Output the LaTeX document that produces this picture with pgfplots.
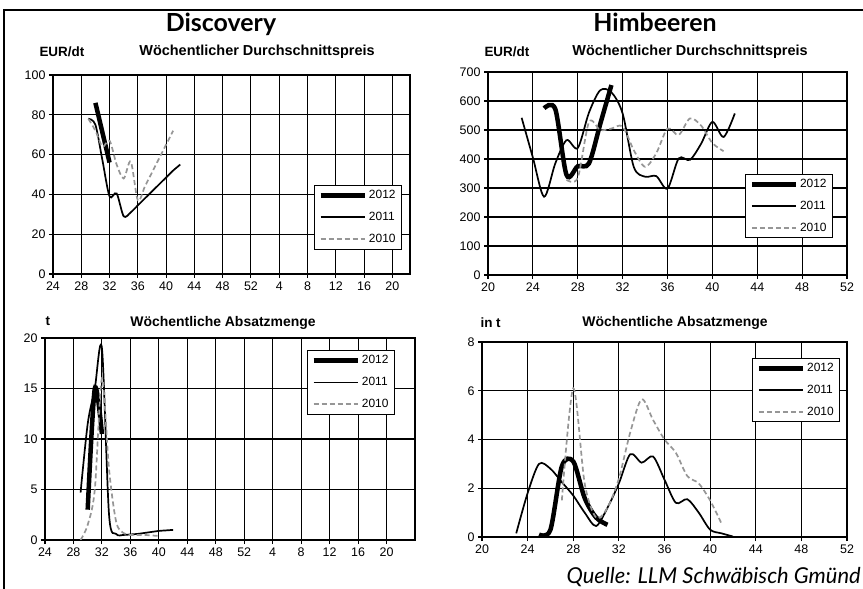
\documentclass[border=0pt]{standalone}
\usepackage{pgfplots}
\pgfplotsset{compat=1.18}
\usepackage{fontspec}
\setmainfont{Liberation Sans}
\newfontfamily\titlefont{Lato}
\definecolor{dashgray}{RGB}{150,150,150}

\pgfplotsset{
  panel/.style={
    scale only axis, anchor=south west,
    grid=major, grid style={black, line width=1.1bp},
    axis line style={black, line width=1.6bp},
    tick style={black, line width=1.1bp},
    tick align=outside, major tick length=4bp, tick pos=left,
    ticklabel style={font=\fontsize{12.5}{13}\selectfont},
    /pgf/number format/assume math mode=true,
    legend style={draw=black, line width=1bp, anchor=north west,
      font=\fontsize{12}{13}\selectfont, inner xsep=4bp, inner ysep=3bp,
      row sep=8bp, cells={anchor=west}},
    legend image code/.code={\draw[##1] (0bp,0bp) -- (44bp,0bp);},
    /tikz/every odd column/.append style={column sep=0bp},
  },
  y2012/.style={black, line width=4.5bp, smooth},
  y2011/.style={black, line width=1.7bp, smooth},
  y2010/.style={dashgray, line width=1.7bp, dash pattern=on 5bp off 3bp, smooth},
  discx/.style={xmin=24, xtick={24,28,...,72},
    xticklabels={24,28,32,36,40,44,48,52,4,8,12,16,20}},
  himx/.style={xmin=20, xmax=52, xtick={20,24,...,52}},
}

\begin{document}
\begin{tikzpicture}
\path[use as bounding box] (0bp,0bp) rectangle (863bp,589bp);
\draw[line width=2bp] (4bp,-2bp) -- (4bp,579bp) -- (866bp,579bp);

\node[font=\titlefont\bfseries\fontsize{25}{28}\selectfont] at (221bp,565bp) {Discovery};
\node[font=\titlefont\bfseries\fontsize{25}{28}\selectfont] at (655bp,567bp) {Himbeeren};

% Discovery price
\node[font=\bfseries\fontsize{14.5}{16}\selectfont] at (257bp,537bp) {Wöchentlicher Durchschnittspreis};
\node[font=\bfseries\fontsize{13.5}{16}\selectfont, anchor=west] at (36bp,537bp) {EUR/dt};
\begin{axis}[panel, discx, at={(53bp,315bp)}, width=357bp, height=199bp,
  xmax=74.5, ymin=0, ymax=100, ytick={0,20,...,100},
  legend style={at={(0.731,0.447)}}]
\addplot[y2012] coordinates {(30,86) (31,71) (32,56)};
\addplot[y2011] coordinates {(29,78) (30,75) (31,57) (32,39) (33,40.5) (34,29) (35,31) (36,34.5) (37,38) (38,41.5) (39,45) (40,48.5) (41,52) (42,55)};
\addplot[y2010] coordinates {(29,78) (30,72) (31,64) (32,67) (33,55) (34,48) (35,56.5) (36,37) (37,44) (38,51) (39,58) (40,65) (41,72)};
\legend{2012,2011,2010}
\end{axis}

% Himbeeren price
\node[font=\bfseries\fontsize{14.5}{16}\selectfont] at (690bp,537bp) {Wöchentlicher Durchschnittspreis};
\node[font=\bfseries\fontsize{13.5}{16}\selectfont, anchor=west] at (481bp,537bp) {EUR/dt};
\begin{axis}[panel, himx, at={(488bp,314bp)}, width=359bp, height=203bp,
  ymin=0, ymax=700, ytick={0,100,...,700},
  legend style={at={(0.716,0.4975)}}]
\addplot[y2012] coordinates {(25,575) (26,572) (27,345) (28,375) (29,385) (30,520) (31,655)};
\addplot[y2011] coordinates {(23,542) (24,405) (25,270) (26,385) (27,465) (28,438) (29,560) (30,637) (31,630) (32,557) (33,372) (34,339) (35,341) (36,298) (37,402) (38,397) (39,453) (40,528) (41,476) (42,557)};
\addplot[y2010] coordinates {(27,328) (28,335) (29,527) (30,500) (31,505) (32,512) (33,430) (34,373) (35,420) (36,505) (37,483) (38,540) (39,515) (40,455) (41,427)};
\legend{2012,2011,2010}
\end{axis}

% Discovery quantity
\node[font=\bfseries\fontsize{14}{16}\selectfont] at (223bp,266bp) {Wöchentliche Absatzmenge};
\node[font=\bfseries\fontsize{13.5}{16}\selectfont, anchor=west] at (42bp,268bp) {t};
\begin{axis}[panel, discx, at={(45bp,49bp)}, width=370bp, height=202bp,
  xmax=76, ymin=0, ymax=20, ytick={0,5,...,20},
  legend style={at={(0.708,0.94)}}]
\addplot[y2012] coordinates {(30,3) (31,15) (32,10.5)};
\addplot[y2011] coordinates {(29,4.7) (30,11.5) (31,15) (32,19) (33,2.5) (34,0.6) (35,0.5) (36,0.55) (37,0.6) (38,0.7) (39,0.8) (40,0.9) (41,0.95) (42,1.0)};
\addplot[y2010] coordinates {(29,0) (30,1.5) (31,5) (32,16) (33,7) (34,1.8) (35,0.7) (36,0.5) (37,0.5) (38,0.5) (39,0.45) (40,0.4)};
\legend{2012,2011,2010}
\end{axis}

% Himbeeren quantity
\node[font=\bfseries\fontsize{14}{16}\selectfont] at (675bp,266bp) {Wöchentliche Absatzmenge};
\node[font=\bfseries\fontsize{13.5}{16}\selectfont, anchor=west] at (477bp,266bp) {in t};
\begin{axis}[panel, himx, at={(482bp,52bp)}, width=365bp, height=195bp,
  ymin=0, ymax=8, ytick={0,2,...,8},
  legend style={at={(0.74,0.918)}}]
\addplot[y2012] coordinates {(25,0.1) (26,0.3) (27,2.9) (28,3.1) (29,1.6) (30,0.8) (31,0.5)};
\addplot[y2011] coordinates {(23,0.15) (24,1.8) (25,3.0) (26,2.8) (27,2.25) (28,1.7) (29,1.0) (30,0.45) (31,1.2) (32,2.2) (33,3.4) (34,3.05) (35,3.3) (36,2.35) (37,1.4) (38,1.55) (39,1.0) (40,0.3) (41,0.15) (42,0.02)};
\addplot[y2010] coordinates {(27,1.5) (28,6.1) (29,2.2) (30,0.8) (31,1.2) (32,2.4) (33,4.3) (34,5.65) (35,4.8) (36,4.0) (37,3.45) (38,2.5) (39,2.2) (40,1.5) (41,0.55)};
\legend{2012,2011,2010}
\end{axis}

\node[font=\titlefont\itshape\fontsize{22}{24}\selectfont, anchor=base west] at (563bp,6bp) {Quelle: LLM Schwäbisch Gmünd};
\end{tikzpicture}
\end{document}
